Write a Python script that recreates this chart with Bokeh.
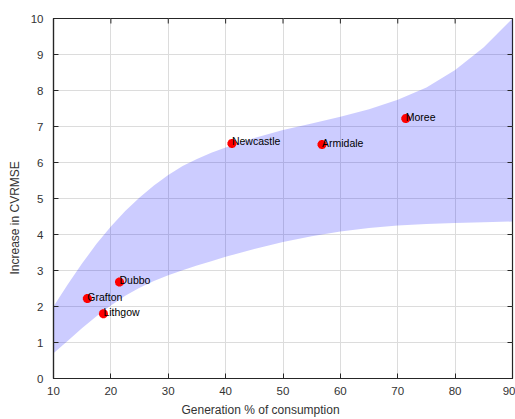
import math
from bokeh.plotting import figure
from bokeh.models import ColumnDataSource, FixedTicker, Range1d, Title
from bokeh.core.properties import value
from bokeh.embed import file_html
from bokeh.resources import INLINE

# Sites: generation share (%) and increase in CVRMSE
sites = ["Grafton", "Lithgow", "Dubbo", "Newcastle", "Armidale", "Moree"]
generation_pct = [15.9, 18.7, 21.5, 41.1, 56.8, 71.4]
cvrmse_increase = [2.22, 1.80, 2.68, 6.53, 6.50, 7.22]

# Confidence band bounds
band_x = [10, 12.5, 15, 17.5, 20, 22.5, 25, 27.5, 30, 32.5, 35, 37.5, 40,
          45, 50, 55, 60, 65, 70, 75, 80, 85, 90]
band_upper = [2.0, 2.62, 3.2, 3.74, 4.22, 4.65, 5.03, 5.36, 5.65, 5.9, 6.1, 6.27, 6.42,
              6.68, 6.9, 7.08, 7.27, 7.48, 7.74, 8.08, 8.57, 9.2, 10.0]
band_lower = [0.7, 1.05, 1.4, 1.73, 2.03, 2.3, 2.52, 2.71, 2.87, 3.01, 3.14, 3.26, 3.38,
              3.6, 3.79, 3.95, 4.08, 4.18, 4.25, 4.29, 4.32, 4.34, 4.36]

x_ticks = [10, 20, 30, 40, 50, 60, 70, 80, 90]
y_ticks = [0, 1, 2, 3, 4, 5, 6, 7, 8, 9, 10]
x_min, x_max = 10, 90
y_min, y_max = 0, 10

FONT = "Liberation Sans"
AXIS_COLOR = "#262626"
LABEL_COLOR = "#333333"

p = figure(
    width=515, height=419,
    x_range=Range1d(x_min, x_max), y_range=Range1d(y_min, y_max),
    output_backend="svg", toolbar_location=None,
    min_border_left=0, min_border_right=3, min_border_top=18, min_border_bottom=0,
    background_fill_color="white", border_fill_color="white",
)
p.outline_line_color = AXIS_COLOR
p.outline_line_width = 1.2

p.xgrid.ticker = FixedTicker(ticks=x_ticks)
p.ygrid.ticker = FixedTicker(ticks=y_ticks)
p.grid.grid_line_color = "#dcdcdc"
p.grid.grid_line_width = 1

band = ColumnDataSource(dict(x=band_x, upper=band_upper, lower=band_lower))
p.varea(x="x", y1="lower", y2="upper", source=band, fill_color="blue", fill_alpha=0.2)

# Inward tick marks on the top and right edges of the box (half of each dash is clipped)
p.scatter(x=x_ticks, y=[y_max] * len(x_ticks), marker="dash", size=10, angle=math.pi / 2,
          line_color=AXIS_COLOR, line_width=1)
p.scatter(x=[x_max] * len(y_ticks), y=y_ticks, marker="dash", size=10,
          line_color=AXIS_COLOR, line_width=1)

pts = ColumnDataSource(dict(x=generation_pct, y=cvrmse_increase, name=sites))
p.scatter(x="x", y="y", source=pts, marker="asterisk", size=9, line_color="red", line_width=3)
p.text(x="x", y="y", text="name", source=pts, text_font=value(FONT), text_font_size="10.5px",
       text_color="black", text_baseline="middle", text_align="left", y_offset=-2)

def style_axis(ax):
    ax.axis_line_color = AXIS_COLOR
    ax.axis_line_width = 1.2
    ax.major_tick_in = 5
    ax.major_tick_out = 0
    ax.minor_tick_line_color = None
    ax.major_tick_line_color = AXIS_COLOR
    ax.major_label_text_font = FONT
    ax.major_label_text_font_size = "11.5px"
    ax.major_label_text_color = LABEL_COLOR

xa = p.xaxis[0]
xa.ticker = FixedTicker(ticks=x_ticks)
xa.major_label_standoff = 8
style_axis(xa)

ya = p.yaxis[0]
ya.ticker = FixedTicker(ticks=y_ticks)
ya.major_label_standoff = 10
style_axis(ya)

x_title = Title(text="Generation % of consumption", align="left", offset=128,
                text_font=FONT, text_font_size="12px", text_font_style="normal",
                text_color=LABEL_COLOR, standoff=6)
p.add_layout(x_title, "below")

y_title = Title(text="Increase in CVRMSE", align="left", offset=104,
                text_font=FONT, text_font_size="12px", text_font_style="normal",
                text_color=LABEL_COLOR, standoff=11)
p.add_layout(y_title, "left")

open("out.html", "w").write(file_html(p, INLINE))
